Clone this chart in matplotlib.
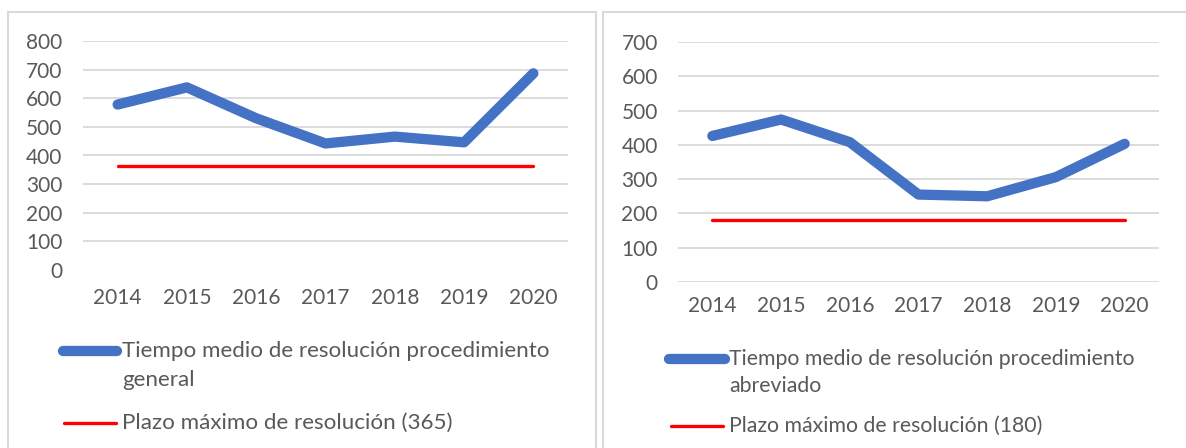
import matplotlib.pyplot as plt
from matplotlib.lines import Line2D
from matplotlib.patches import Rectangle

plt.rcParams['font.family'] = ['Lato', 'DejaVu Sans']

years = ['2014', '2015', '2016', '2017', '2018', '2019', '2020']
general = [578, 638, 530, 442, 466, 446, 687]
abreviado = [426, 474, 408, 255, 250, 306, 403]
plazo_general = 365
plazo_abreviado = 180

BLUE = '#4472c4'
RED = '#ff0000'
GRID = '#d9d9d9'
TXT = '#595959'

W, H = 1186, 448
fig = plt.figure(figsize=(W / 100, H / 100), dpi=100, facecolor='white')


def px_axes(x0, x1, ytop, ybot):
    return fig.add_axes([x0 / W, 1 - ybot / H, (x1 - x0) / W, (ybot - ytop) / H])


def draw_panel(ax, values, plazo, ymax, zero_grid):
    x = range(len(years))
    ax.plot(x, values, color=BLUE, lw=7.4, solid_capstyle='round', solid_joinstyle='round', zorder=3)
    ax.plot(x, [plazo] * len(years), color=RED, lw=2.4, solid_capstyle='round', zorder=2)
    ax.set_xlim(-0.5, len(years) - 0.5)
    ax.set_ylim(0, ymax)
    ax.set_yticks(range(0, ymax + 1, 100))
    ax.set_xticks(list(x))
    ax.set_xticklabels(years)
    for s in ax.spines.values():
        s.set_visible(False)
    for yv in range(0 if zero_grid else 100, ymax + 1, 100):
        ax.axhline(yv, color=GRID, lw=1.3, zorder=1)
    ax.tick_params(length=0, labelsize=15, colors=TXT)


ax1 = px_axes(83, 568, 41, 270)
draw_panel(ax1, general, plazo_general, 800, False)
ax1.tick_params(axis='x', pad=13)
ax1.tick_params(axis='y', pad=15)

ax2 = px_axes(678, 1159, 42, 282)
draw_panel(ax2, abreviado, plazo_abreviado, 700, True)
ax2.tick_params(axis='x', pad=10)
ax2.tick_params(axis='y', pad=14.5)

# panel borders
for x0, x1 in [(8, 596), (603, 1200)]:
    fig.patches.append(Rectangle((x0 / W, -0.1), (x1 - x0) / W, 1.1 - 12.5 / H, transform=fig.transFigure,
                                 fill=False, edgecolor=GRID, lw=1.5))


def legend_entry(x0, x1, y, color, lw, lines, tx, size, step):
    fig.add_artist(Line2D([x0 / W, x1 / W], [1 - y / H, 1 - y / H], color=color, lw=lw,
                          solid_capstyle='round', transform=fig.transFigure))
    for i, t in enumerate(lines):
        fig.text(tx / W, 1 - (y + i * step) / H, t, fontsize=size, color=TXT, ha='left', va='center')


legend_entry(63, 117, 351, BLUE, 7.4, ['Tiempo medio de resolución procedimiento', 'general'], 122, 16.1, 29)
legend_entry(64, 116, 423, RED, 2.4, ['Plazo máximo de resolución ({})'.format(plazo_general)], 122, 16.1, 29)
legend_entry(669, 725, 359, BLUE, 7.4, ['Tiempo medio de resolución procedimiento', 'abreviado'], 729, 15.3, 27)
legend_entry(671, 723, 426, RED, 2.4, ['Plazo máximo de resolución ({})'.format(plazo_abreviado)], 729, 15.3, 27)

fig.savefig('out.png', dpi=100, facecolor='white')
